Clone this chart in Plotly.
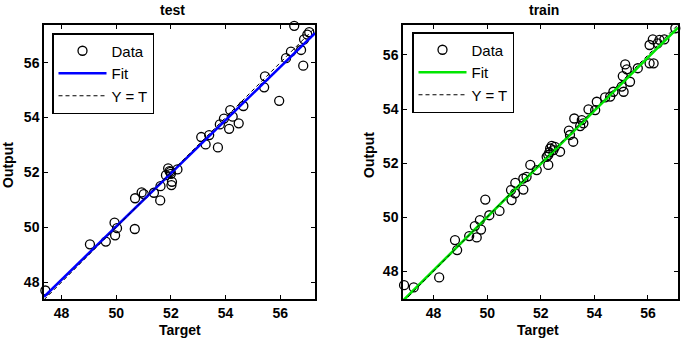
import plotly.graph_objects as go

# ---------------- data ----------------
test_target = [47.41, 49.04, 49.62, 49.94, 49.96, 50.03, 50.68, 50.69, 50.93, 51.01,
               51.38, 51.61, 51.62, 51.82, 51.90, 51.99, 52.04, 52.02, 52.24, 53.11,
               53.27, 53.40, 53.72, 53.79, 53.94, 54.13, 54.17, 54.26, 54.48, 54.65,
               55.41, 55.44, 55.96, 56.21, 56.39, 56.51, 56.76, 56.84, 56.87, 56.99,
               57.06, 51.95, 52.00]
test_output = [47.70, 49.38, 49.48, 50.17, 49.71, 49.97, 49.94, 51.06, 51.27, 51.21,
               51.26, 50.98, 51.50, 51.90, 52.15, 52.02, 51.66, 51.54, 52.11, 53.29,
               53.02, 53.36, 52.91, 53.75, 53.96, 53.59, 54.27, 54.03, 53.79, 54.42,
               55.10, 55.50, 54.61, 56.16, 56.40, 57.34, 56.46, 55.89, 56.85, 57.02,
               57.11, 52.05, 51.95]

train_target = [46.90, 47.26, 48.21, 48.80, 48.88, 49.33, 49.54, 49.61, 49.73, 49.77,
                49.93, 50.08, 50.46, 50.89, 50.91, 51.04, 51.05, 51.35, 51.47, 51.61,
                51.85, 52.28, 52.28, 52.35, 52.41, 52.47, 52.72, 53.05, 53.09, 53.21,
                53.25, 53.47, 53.53, 53.78, 54.03, 54.09, 54.40, 54.71, 55.02, 55.09,
                55.06, 55.15, 55.21, 55.33, 55.62, 56.06, 56.21, 56.06, 56.18, 56.36,
                56.43, 56.61, 57.02, 57.18, 52.22, 52.53, 52.32, 53.59, 54.59, 51.35]
train_output = [47.48, 47.40, 47.77, 49.15, 48.78, 49.30, 49.67, 49.25, 49.89, 49.54,
                50.65, 50.07, 50.23, 51.00, 50.63, 50.88, 51.27, 51.02, 51.49, 51.93,
                51.74, 52.30, 51.93, 52.54, 52.64, 52.48, 52.42, 53.20, 53.04, 52.79,
                53.65, 53.37, 53.59, 53.99, 53.96, 54.27, 54.43, 54.64, 54.83, 54.64,
                55.22, 55.65, 55.47, 55.01, 55.51, 55.69, 55.69, 56.37, 56.58, 56.43,
                56.56, 56.58, 56.99, 56.80, 52.23, 52.60, 52.40, 53.47, 54.46, 51.43]

test_xlim = [47.36, 57.27]
test_ylim = [47.39, 57.37]
train_xlim = [46.86, 57.12]
train_ylim = [46.97, 57.11]

test_fit = (0.969, 1.58)     # slope, intercept
train_fit = (0.985, 0.75)

tick_vals = [48, 50, 52, 54, 56]
tick_text = ["48", "50", "52", "54", "56"]

FONT = "Liberation Sans, Arial, sans-serif"

fig = go.Figure()


def add_panel(tx, ty, xlim, fit, color, xa, ya, leg):
    fig.add_trace(go.Scatter(
        x=tx, y=ty, mode="markers", name="Data", xaxis=xa, yaxis=ya, legend=leg,
        marker=dict(symbol="circle-open", size=9, color="black", line=dict(width=1.3, color="black")),
        cliponaxis=False))
    fx = [xlim[0], xlim[1]]
    fig.add_trace(go.Scatter(
        x=fx, y=[fit[0] * v + fit[1] for v in fx], mode="lines", name="Fit",
        xaxis=xa, yaxis=ya, legend=leg, line=dict(color=color, width=2.6)))
    fig.add_trace(go.Scatter(
        x=fx, y=fx, mode="lines", name="Y = T", xaxis=xa, yaxis=ya, legend=leg,
        line=dict(color="black", width=1, dash="4px,3px")))


add_panel(test_target, test_output, test_xlim, test_fit, "#0000ff", "x", "y", "legend")
add_panel(train_target, train_output, train_xlim, train_fit, "#00e600", "x2", "y2", "legend2")

W, H = 685, 343
axis_common = dict(
    showgrid=False, zeroline=False, showline=True, linecolor="black", linewidth=1.5,
    mirror="ticks", ticks="inside", ticklen=4, tickwidth=1, tickcolor="black",
    tickvals=tick_vals, ticktext=tick_text,
    tickfont=dict(family=FONT, size=14, color="black", weight="bold"),
)

legend_common = dict(
    bgcolor="white", bordercolor="black", borderwidth=1.5,
    font=dict(family=FONT, size=15, color="black"),
    xanchor="left", yanchor="top", itemwidth=48, tracegroupgap=0,
)

fig.update_layout(
    width=W, height=H,
    margin=dict(l=0, r=0, t=0, b=0),
    paper_bgcolor="white", plot_bgcolor="white",
    font=dict(family=FONT, color="black"),
    xaxis=dict(domain=[44 / W, 315 / W], range=test_xlim, anchor="y", **axis_common),
    yaxis=dict(domain=[1 - 299 / H, 1 - 25 / H], range=test_ylim, anchor="x", **axis_common),
    xaxis2=dict(domain=[403 / W, 678 / W], range=train_xlim, anchor="y2", **axis_common),
    yaxis2=dict(domain=[1 - 299 / H, 1 - 25 / H], range=train_ylim, anchor="x2", **axis_common),
    legend=dict(x=52 / W, y=1 - 33 / H, **legend_common),
    legend2=dict(x=412 / W, y=1 - 32 / H, **legend_common),
)

ann_font = dict(family=FONT, size=14, color="black", weight="bold")
annotations = [
    dict(text="test", x=172 / W, y=1 - 10 / H),
    dict(text="train", x=544 / W, y=1 - 10 / H),
    dict(text="Target", x=180 / W, y=1 - 330 / H),
    dict(text="Target", x=538 / W, y=1 - 330 / H),
]
for a in annotations:
    fig.add_annotation(xref="paper", yref="paper", showarrow=False,
                       xanchor="center", yanchor="middle", font=ann_font, **a)
fig.add_annotation(text="Output", x=8 / W, y=1 - 165 / H, xref="paper", yref="paper",
                   showarrow=False, textangle=-90, xanchor="center", yanchor="middle", font=ann_font)
fig.add_annotation(text="Output", x=369 / W, y=1 - 155 / H, xref="paper", yref="paper",
                   showarrow=False, textangle=-90, xanchor="center", yanchor="middle", font=ann_font)

fig.write_html("out.html", config={"displayModeBar": False},
               post_script="document.body.style.margin='0';document.body.style.overflow='hidden';")
